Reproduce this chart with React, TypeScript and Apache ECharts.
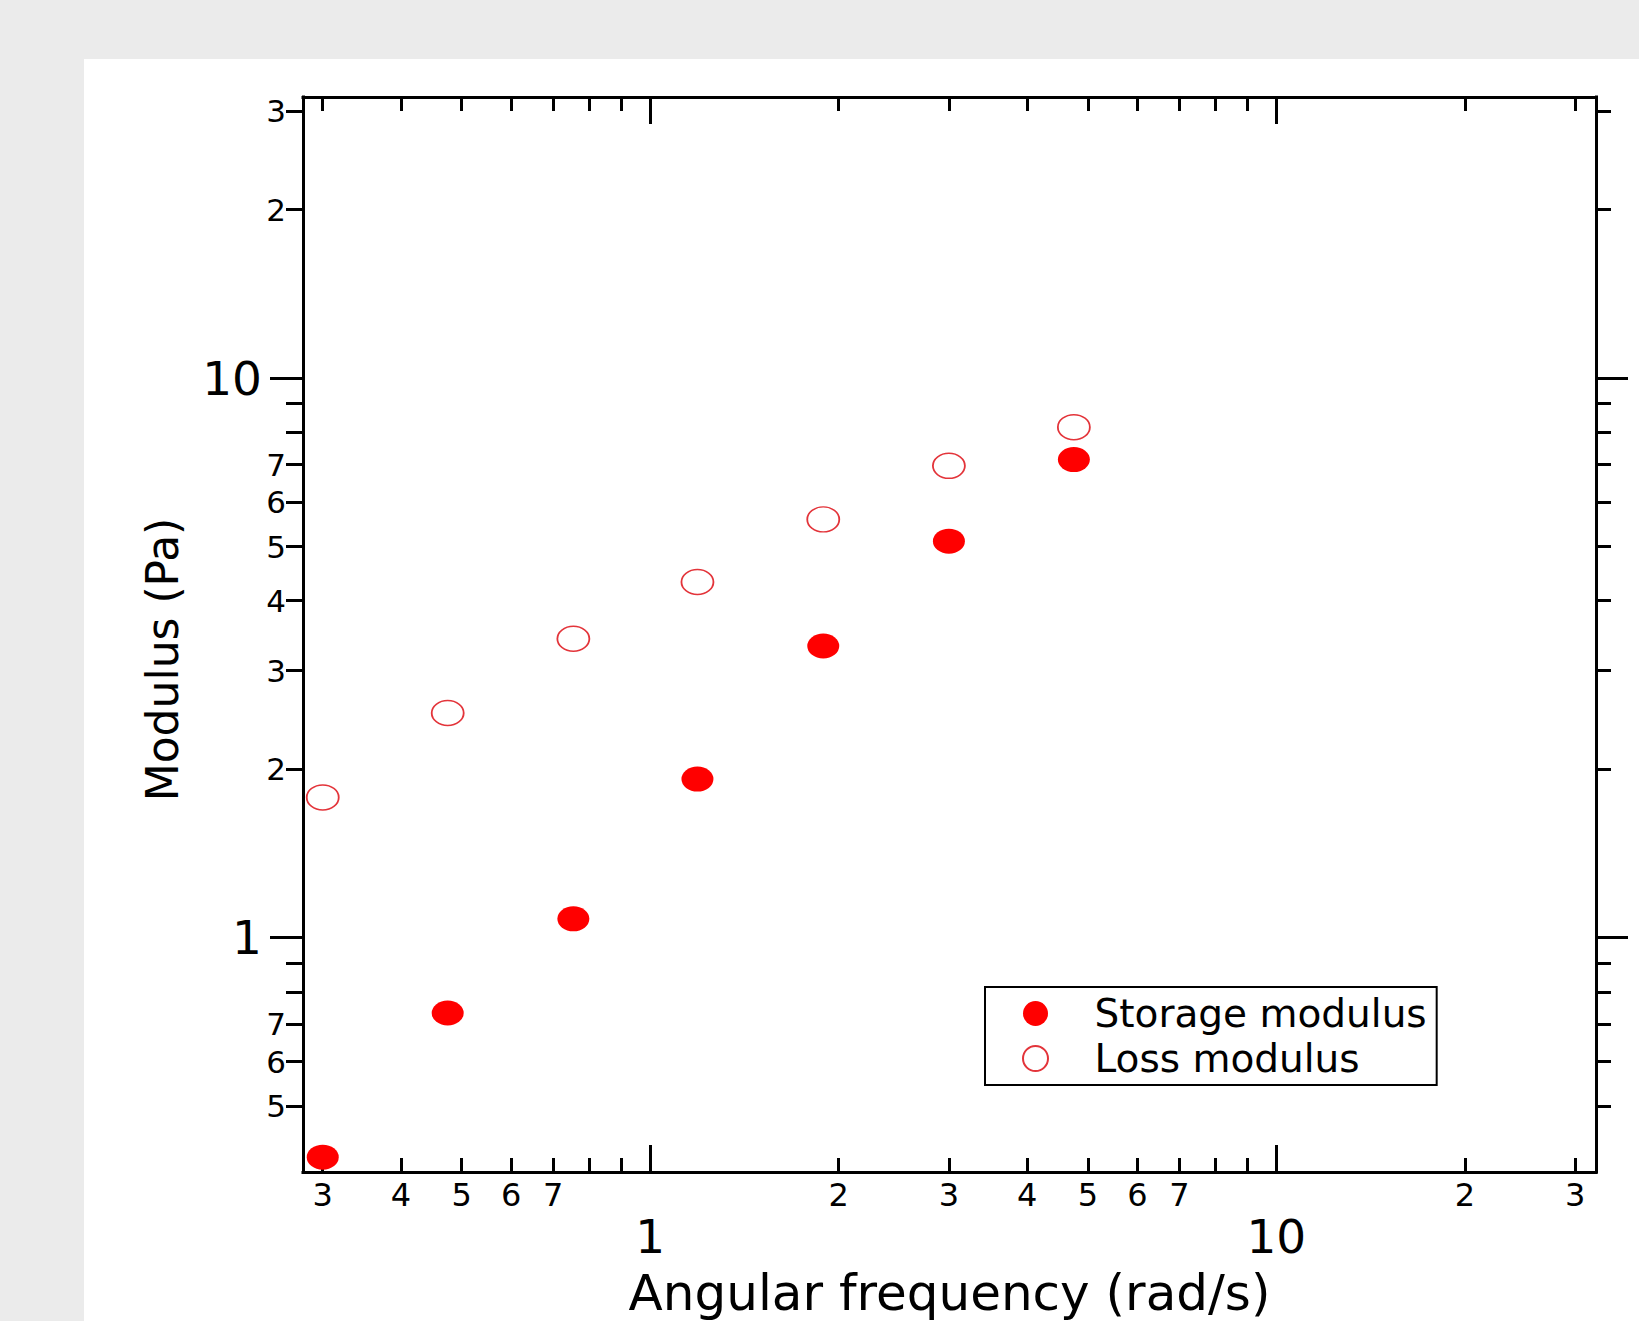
import React, { useEffect, useRef } from 'react';
import * as echarts from 'echarts';

// ---- data ----
const frequency = [0.3, 0.475, 0.754, 1.19, 1.89, 3.0, 4.75];
const storageModulus = [0.405, 0.733, 1.08, 1.92, 3.32, 5.11, 7.15];
const lossModulus = [1.78, 2.52, 3.42, 4.32, 5.59, 6.97, 8.17];

const xRange = [0.279, 32.4];
const yRange = [0.381, 31.8];

const xMinorTicks = [0.3, 0.4, 0.5, 0.6, 0.7, 0.8, 0.9, 2, 3, 4, 5, 6, 7, 8, 9, 20, 30];
const xMinorLabels = [0.3, 0.4, 0.5, 0.6, 0.7, 2, 3, 4, 5, 6, 7, 20, 30];
const xMajorTicks = [1, 10];
const yMinorTicks = [0.5, 0.6, 0.7, 0.8, 0.9, 2, 3, 4, 5, 6, 7, 8, 9, 20, 30];
const yMinorLabels = [0.5, 0.6, 0.7, 2, 3, 4, 5, 6, 7, 20, 30];
const yMajorTicks = [1, 10];

const seriesNames = ['Storage modulus', 'Loss modulus'];
const xTitle = 'Angular frequency (rad/s)';
const yTitle = 'Modulus (Pa)';

const FONT = 'DejaVu Sans';
const ELLIPSE = 'path://M0,-1A1,1,0,1,1,0,1A1,1,0,1,1,0,-1Z';

const lg = (v: number) => Math.log10(v);
const digitLabel = (lv: number) => {
  const v = Math.pow(10, lv);
  const e = Math.floor(lv + 1e-9);
  return String(Math.round(v / Math.pow(10, e)));
};
const majorLabel = (lv: number) => String(Math.round(Math.pow(10, lv)));

function tickAxis(o: any) {
  const range = o.range;
  return {
    type: 'value',
    gridIndex: 0,
    position: o.position,
    min: lg(range[0]),
    max: lg(range[1]),
    name: o.name,
    nameLocation: 'middle',
    nameGap: o.nameGap,
    nameTextStyle: o.nameTextStyle,
    axisLine: { show: o.line, onZero: false, lineStyle: { color: '#000', width: 3, cap: 'square' } },
    axisTick: {
      show: true,
      inside: o.inside,
      length: o.len,
      customValues: o.ticks.map(lg),
      lineStyle: { color: '#000', width: 3 },
    },
    axisLabel: o.labels
      ? {
          show: true,
          customValues: o.labels.map(lg),
          formatter: o.fmt,
          margin: o.margin,
          fontSize: o.fontSize,
          fontFamily: FONT,
          color: '#000',
        }
      : { show: false },
    splitLine: { show: false },
    minorTick: { show: false },
    minorSplitLine: { show: false },
  };
}

export default function App() {
  const ref = useRef<HTMLDivElement>(null);

  useEffect(() => {
    if (!ref.current) return;
    const chart = echarts.init(ref.current, undefined, { renderer: 'svg' });

    const option: any = {
      animation: false,
      backgroundColor: '#ebebeb',
      graphic: [
        {
          type: 'rect',
          z: -10,
          silent: true,
          shape: { x: 84, y: 59, width: 1639 - 84, height: 1321 - 59 },
          style: { fill: '#ffffff' },
        },
      ],
      grid: {
        left: 303,
        top: 97,
        width: 1293,
        height: 1075,
        containLabel: false,
        outerBoundsMode: 'none',
      },
      legend: {
        orient: 'vertical',
        left: 985,
        top: 987,
        data: seriesNames.map((n) => ({ name: n, icon: ELLIPSE })),
        itemWidth: 32,
        itemHeight: 25,
        itemGap: 6,
        padding: [7, 10, 7, 37],
        borderColor: '#000',
        borderWidth: 2,
        borderRadius: 0,
        backgroundColor: '#fff',
        selectedMode: false,
        textStyle: { fontSize: 39, fontFamily: FONT, color: '#000', padding: [0, 0, 0, 38] },
      },
      xAxis: [
        { type: 'log', gridIndex: 0, min: xRange[0], max: xRange[1], show: false, splitLine: { show: false } },
        tickAxis({
          range: xRange, position: 'bottom', line: true, inside: true, len: 14,
          ticks: xMinorTicks, labels: xMinorLabels, fmt: digitLabel, margin: 7, fontSize: 32,
          name: xTitle, nameGap: 96,
          nameTextStyle: { fontSize: 50, fontFamily: FONT, color: '#000' },
        }),
        tickAxis({
          range: xRange, position: 'bottom', line: false, inside: true, len: 27,
          ticks: xMajorTicks, labels: xMajorTicks, fmt: majorLabel, margin: 41, fontSize: 47,
        }),
        tickAxis({ range: xRange, position: 'top', line: true, inside: true, len: 14, ticks: xMinorTicks }),
        tickAxis({ range: xRange, position: 'top', line: false, inside: true, len: 27, ticks: xMajorTicks }),
      ],
      yAxis: [
        { type: 'log', gridIndex: 0, min: yRange[0], max: yRange[1], show: false, splitLine: { show: false } },
        tickAxis({
          range: yRange, position: 'left', line: true, inside: false, len: 17,
          ticks: yMinorTicks, labels: yMinorLabels, fmt: digitLabel, margin: 17, fontSize: 31,
          name: yTitle, nameGap: 119,
          nameTextStyle: { fontSize: 44, fontFamily: FONT, color: '#000', padding: [0, 50, 0, 0] },
        }),
        tickAxis({
          range: yRange, position: 'left', line: false, inside: false, len: 33,
          ticks: yMajorTicks, labels: yMajorTicks, fmt: majorLabel, margin: 41, fontSize: 47,
        }),
        tickAxis({ range: yRange, position: 'right', line: true, inside: false, len: 15, ticks: yMinorTicks }),
        tickAxis({ range: yRange, position: 'right', line: false, inside: false, len: 32, ticks: yMajorTicks }),
      ],
      series: [
        {
          name: seriesNames[0],
          type: 'scatter',
          xAxisIndex: 0,
          yAxisIndex: 0,
          symbol: ELLIPSE,
          symbolSize: [32, 25],
          itemStyle: { color: '#ff0000', opacity: 1 },
          data: frequency.map((f, i) => [f, storageModulus[i]]),
          z: 5,
        },
        {
          name: seriesNames[1],
          type: 'scatter',
          xAxisIndex: 0,
          yAxisIndex: 0,
          symbol: ELLIPSE,
          symbolSize: [32, 25],
          itemStyle: { color: '#ffffff', borderColor: '#e3343a', borderWidth: 1.6, opacity: 1 },
          data: frequency.map((f, i) => [f, lossModulus[i]]),
          z: 5,
        },
      ],
    };

    chart.setOption(option);
    return () => chart.dispose();
  }, []);

  return (
    <div
      ref={ref}
      style={{ position: 'fixed', left: 0, top: 0, width: 1639, height: 1321 }}
    />
  );
}
